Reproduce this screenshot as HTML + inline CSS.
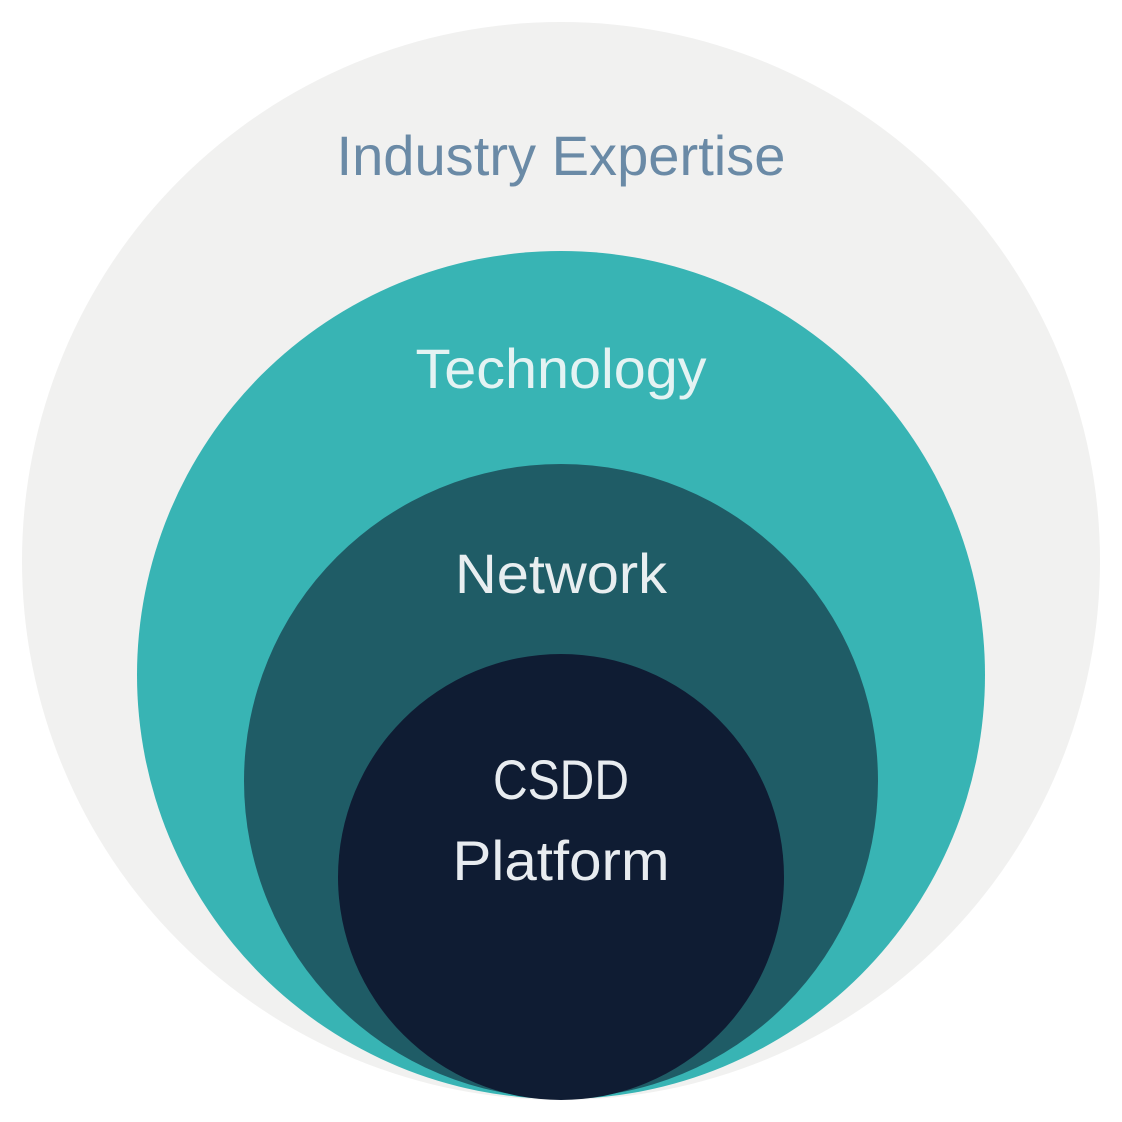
<!DOCTYPE html>
<html><head><style>
html,body{margin:0;padding:0;background:#fff;}
svg{display:block;}
text{font-family:"Liberation Sans",sans-serif;text-anchor:middle;}
</style></head><body>
<svg width="1122" height="1122" viewBox="0 0 1122 1122">
<circle cx="561" cy="561" r="539" fill="#f1f1f0"/>
<circle cx="561" cy="675" r="424" fill="#38b4b4"/>
<circle cx="561" cy="781" r="317" fill="#1f5c66"/>
<circle cx="561" cy="877" r="223" fill="#0f1c33"/>
<text x="561" y="175" font-size="56" fill="#6a8aa6" textLength="449" lengthAdjust="spacingAndGlyphs">Industry Expertise</text>
<text x="561" y="388" font-size="56" fill="#e4f3f3" textLength="291" lengthAdjust="spacingAndGlyphs">Technology</text>
<text x="561" y="593" font-size="56" fill="#e8eef0" textLength="212" lengthAdjust="spacingAndGlyphs">Network</text>
<text x="561" y="799" font-size="56" fill="#e8ecf0" textLength="136" lengthAdjust="spacingAndGlyphs">CSDD</text>
<text x="561" y="880" font-size="56" fill="#e8ecf0" textLength="217" lengthAdjust="spacingAndGlyphs">Platform</text>
</svg>
</body></html>
